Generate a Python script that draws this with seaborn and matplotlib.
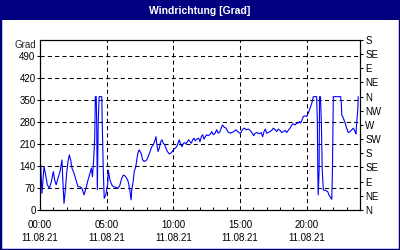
import matplotlib
matplotlib.use("Agg")
import matplotlib.pyplot as plt
import seaborn as sns
import pandas as pd
import numpy as np
from matplotlib.patches import Rectangle
from matplotlib.ticker import FixedLocator, MultipleLocator

# ---- data ----
minutes = [3, 9, 14, 18, 24, 33, 42, 51, 60, 66, 73, 81, 90, 99, 102, 108, 114, 120, 126, 132,
           138, 144, 153, 162, 171, 180, 189, 198, 207, 216, 225, 231, 236, 240, 246, 249, 253, 255,
           258, 262, 266, 278, 280, 285, 289, 296, 305, 307, 311, 315, 323, 330, 341, 352, 360, 368,
           375, 383, 390, 397, 404, 410, 413, 420, 424, 431, 440, 446, 455, 462, 469, 480, 487, 495,
           503, 510, 518, 522, 525, 531, 537, 543, 549, 555, 561, 567, 573, 582, 591, 600, 608, 615,
           621, 627, 633, 639, 645, 651, 657, 663, 669, 675, 681, 687, 693, 699, 705, 714, 720, 726,
           732, 738, 744, 750, 757, 765, 773, 780, 788, 795, 802, 810, 818, 822, 829, 837, 845, 854,
           863, 872, 881, 890, 899, 905, 910, 919, 928, 937, 946, 955, 962, 968, 977, 986, 995, 1002,
           1008, 1014, 1020, 1027, 1035, 1043, 1050, 1058, 1065, 1072, 1080, 1088, 1095, 1103, 1110,
           1117, 1125, 1133, 1140, 1148, 1155, 1162, 1167, 1173, 1179, 1185, 1191, 1200, 1207, 1215,
           1223, 1230, 1245, 1248, 1250, 1252, 1256, 1258, 1262, 1266, 1270, 1275, 1285, 1295, 1300,
           1310, 1313, 1316, 1320, 1353, 1356, 1358, 1365, 1373, 1380, 1387, 1395, 1403, 1410, 1418,
           1422, 1425, 1430, 1432]
degrees = [143, 53, 101, 138, 117, 80, 69, 90, 122, 95, 80, 101, 122, 159, 106, 21, 64, 117, 154, 175,
           159, 133, 117, 95, 74, 74, 69, 48, 69, 95, 117, 133, 106, 143, 223, 360, 360, 281,
           64, 281, 360, 360, 281, 120, 37, 48, 85, 127, 111, 95, 80, 74, 72, 69, 80, 101,
           111, 108, 101, 90, 64, 32, 64, 95, 122, 138, 180, 191, 180, 159, 154, 159, 170, 186,
           201, 207, 223, 233, 212, 186, 196, 217, 223, 212, 207, 196, 186, 178, 182, 191, 196, 201,
           212, 223, 207, 201, 212, 214, 210, 217, 223, 217, 212, 223, 228, 220, 225, 228, 217, 233,
           239, 225, 233, 239, 236, 240, 249, 239, 244, 255, 244, 249, 265, 270, 263, 260, 249, 244,
           246, 249, 255, 249, 244, 246, 255, 260, 255, 257, 253, 244, 236, 244, 246, 242, 246, 233,
           249, 257, 244, 246, 249, 253, 260, 255, 249, 257, 253, 246, 249, 253, 246,
           253, 260, 270, 274, 270, 276, 276, 281, 276, 286, 297, 299, 297, 307, 323,
           339, 360, 360, 281, 127, 48, 127, 360, 360, 281, 127, 64, 62, 58, 48,
           37, 34, 127, 360, 360, 339, 302, 292, 276, 260, 246, 249, 255, 260, 249,
           242, 276, 318, 360]

title = "Windrichtung [Grad]"
y_unit = "Grad"
grad_ticks = [0, 70, 140, 210, 280, 350, 420, 490]
compass_ticks = [0, 45, 90, 135, 180, 225, 270, 315, 360, 405, 450, 495, 540]
compass_labels = ["N", "NE", "E", "SE", "S", "SW", "W", "NW", "N", "NE", "E", "SE", "S"]
x_tick_hours = [0, 5, 10, 15, 20]
x_tick_labels = ["00:00\n11.08.21", "05:00\n11.08.21", "10:00\n11.08.21",
                 "15:00\n11.08.21", "20:00\n11.08.21"]

# ---- style ----
sns.set_style("ticks")
plt.rcParams['font.family'] = ['Liberation Sans', 'DejaVu Sans']
plt.rcParams['font.size'] = 7

navy = "#000080"
fig = plt.figure(figsize=(4, 2.5), dpi=100)
fig.patch.set_facecolor("white")

ax = fig.add_axes([0.1, 0.16, 0.8, 0.68])
df = pd.DataFrame({"hour": np.array(minutes) / 60.0, "deg": degrees})
sns.lineplot(data=df, x="hour", y="deg", ax=ax, color="#0000FF", linewidth=0.8,
             estimator=None, sort=False)

ax.set_xlim(0, 24)
ax.set_ylim(0, 540)
ax.set_xlabel("")
ax.set_ylabel("")

ax.xaxis.set_major_locator(FixedLocator(x_tick_hours))
ax.set_xticklabels(x_tick_labels, linespacing=1.4)
ax.xaxis.set_minor_locator(MultipleLocator(1))
ax.yaxis.set_major_locator(FixedLocator(grad_ticks))
ax.set_yticklabels([str(v) for v in grad_ticks])

ax.tick_params(axis="x", which="both", direction="in", length=2.2, width=0.75,
               pad=7, labelsize=7, colors="black")
ax.tick_params(axis="y", which="both", direction="out", length=2.2, width=0.75,
               pad=1, labelsize=7, colors="black")

ax.grid(True, axis="both", which="major", color="black", linestyle=(0, (4, 3)),
        linewidth=0.75)
for s in ax.spines.values():
    s.set_visible(True)
    s.set_color("black")
    s.set_linewidth(0.8)

ax2 = ax.twinx()
ax2.set_ylim(0, 540)
ax2.yaxis.set_major_locator(FixedLocator(compass_ticks))
ax2.set_yticklabels(compass_labels)
ax2.tick_params(axis="y", direction="out", length=2.2, width=0.75, pad=1.5,
                labelsize=7, colors="black")
ax2.grid(False)
for s in ax2.spines.values():
    s.set_color("black")
    s.set_linewidth(0.8)

# title bar and frame
fig.add_artist(Rectangle((0, 1 - 20 / 250), 1, 20 / 250, transform=fig.transFigure,
                         facecolor=navy, edgecolor="none", zorder=0))
fig.add_artist(Rectangle((0, 0), 1, 1, transform=fig.transFigure, fill=False,
                         edgecolor=navy, linewidth=2.5, zorder=5))
fig.text(0.5, 1 - 10.5 / 250, title, color="white", fontweight="bold",
         ha="center", va="center", fontsize=7.5)
fig.text(36 / 400, 1 - 45 / 250, y_unit, ha="right", va="center", fontsize=7)

fig.savefig("out.png", dpi=100, facecolor="white")
